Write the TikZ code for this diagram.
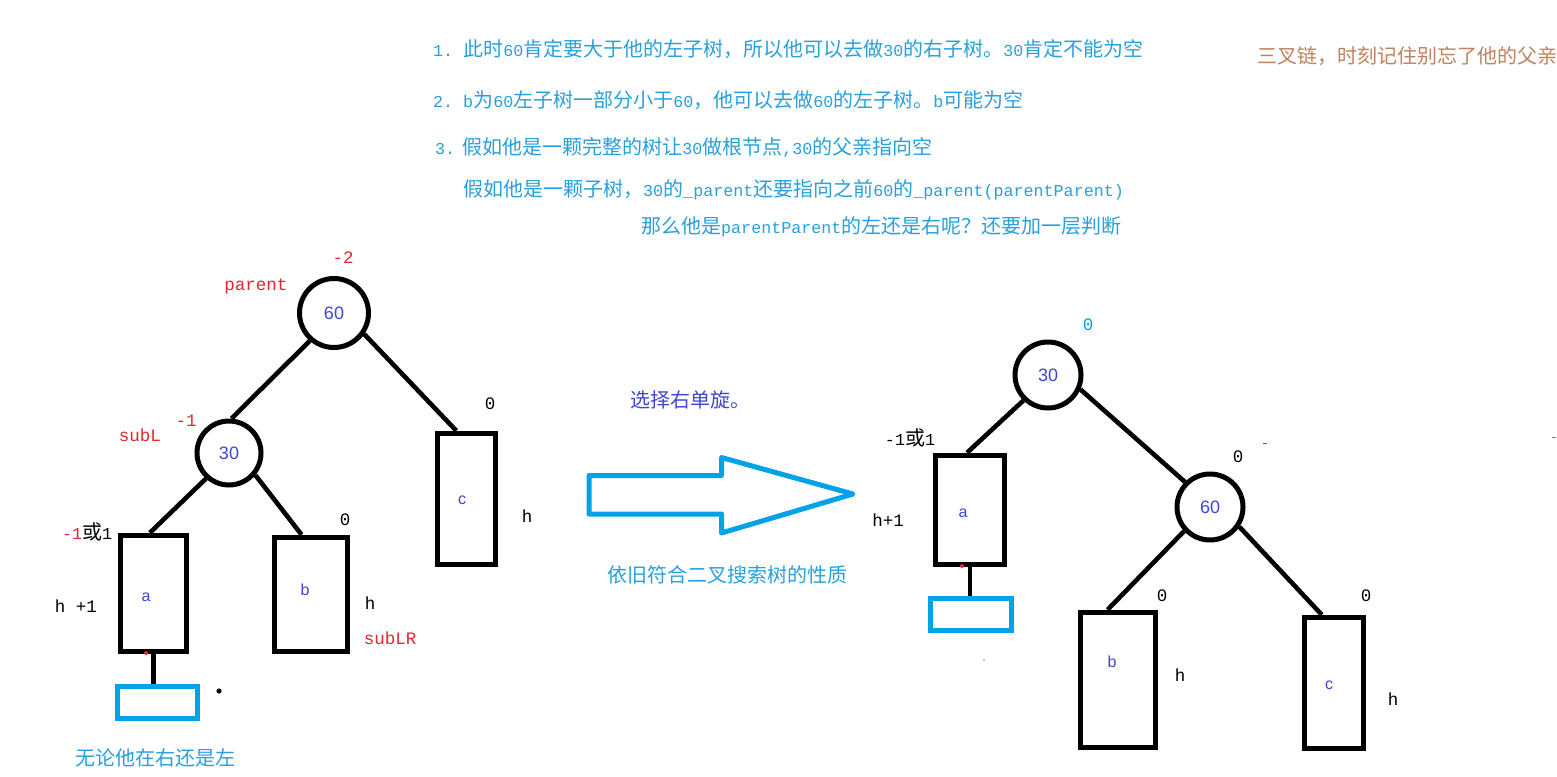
\documentclass[tikz,border=0pt]{standalone}
\usepackage{fontspec}
\setmainfont{Noto Sans CJK SC}
\newfontfamily\latmono{Liberation Mono}
\newfontfamily\latsans{Liberation Sans}
\usetikzlibrary{calc}
\definecolor{pblue}{RGB}{0,162,232}
\definecolor{tblue}{RGB}{40,160,220}
\definecolor{pred}{RGB}{225,40,50}
\definecolor{indig}{RGB}{63,72,204}
\definecolor{pbrown}{RGB}{190,130,95}
\newcommand\mylat[1]{{\latmono\fontsize{16.7}{20}\selectfont #1}}
\tikzset{
  cjkfont/.style={font=\fontsize{20}{24}\selectfont},
  cn/.style={cjkfont, inner sep=0pt},
  lab/.style={font=\latmono\fontsize{17.5}{20}\selectfont, inner sep=0pt},
  circ/.style={circle, draw, line width=5pt, minimum size=#1, inner sep=0pt,
    text=indig, font=\latsans\fontsize{18}{20}\selectfont},
  subtree/.style={draw, line width=5.5pt, inner sep=0pt, text=indig,
    font=\latsans\fontsize{15}{18}\selectfont},
  newbox/.style={draw=pblue, line width=5pt, inner sep=0pt},
  edge/.style={line width=4.6pt},
  leaf/.style={text=indig, font=\latsans\fontsize{16}{18}\selectfont, inner sep=0pt},
}
\begin{document}
\begin{tikzpicture}[x=1pt,y=-1pt]
\fill[white] (0,0) rectangle (1557,776);
\useasboundingbox (0,0) rectangle (1557,776);

% ---------- top notes ----------
\node[cn, anchor=west, text=tblue] (t1) at (433,49) {\mylat{1.}\hspace{10pt}此时\mylat{60}肯定要大于他的左子树，所以他可以去做\mylat{30}的右子树。\mylat{30}肯定不能为空};
\node[cn, anchor=west, text=tblue] (t2) at (433,100) {\mylat{2.}\hspace{10pt}\mylat{b}为\mylat{60}左子树一部分小于\mylat{60}，他可以去做\mylat{60}的左子树。\mylat{b}可能为空};
\node[cn, anchor=west, text=tblue] (t3) at (435,147) {\mylat{3.}\hspace{7pt}假如他是一颗完整的树让\mylat{30}做根节点\mylat{,30}的父亲指向空};
\node[cn, anchor=west, text=tblue] (t4) at (463,190) {假如他是一颗子树，\mylat{30}的\mylat{\_parent}还要指向之前\mylat{60}的\mylat{\_parent(parentParent)}};
\node[cn, anchor=west, text=tblue] (t5) at (641,227) {那么他是\mylat{parentParent}的左还是右呢？还要加一层判断};
\node[cn, anchor=west, text=pbrown] (t6) at (1257,56) {三叉链，时刻记住别忘了他的父亲};

% ---------- left tree ----------
\node[circ=69pt] (L60) at (334,313) {60};
\node[circ=64pt] (L30) at (229,453) {30};
\node[subtree, minimum width=66pt, minimum height=116pt] (La) at (153.5,593.5) {};
\node[subtree, minimum width=73pt, minimum height=114pt] (Lb) at (311,594.5) {};
\node[subtree, minimum width=58pt, minimum height=131pt] (Lc) at (466.5,499) {};
\node[newbox, minimum width=80pt, minimum height=32pt] (Lnew) at (157.5,702.5) {};
\node[leaf] (Lat) at (146,597) {a};
\node[leaf] (Lbt) at (305,590) {b};
\node[leaf] (Lct) at (462,500) {c};

\draw[edge] (L60.229) -- (L30.86);
\draw[edge] (L60.-35) -- ($(Lc.north west)!0.34!(Lc.north east)$);
\draw[edge] (L30.228) -- ($(La.north west)!0.45!(La.north east)$);
\draw[edge] (L30.-40) -- ($(Lb.north west)!0.38!(Lb.north east)$);
\draw[edge] (La.south) -- (La.south |- Lnew.north);
\fill[pred] (146,653) circle (2pt);
\fill[black] (219,691) circle (2.6pt);

\node[lab, text=pred] (lm2) at (343,258) {-2};
\node[lab, text=pred] (lpar) at (256,286) {parent};
\node[lab, text=pred] (lm1) at (186,421) {-1};
\node[lab, text=pred] (lsubl) at (140,435) {subL};
\node[lab] (lc0) at (490,404) {0};
\node[lab] (lch) at (527,516) {h};
\node[cn, anchor=west] (la0) at (62,532) {\mylat{\textcolor{pred}{-1}}或\mylat{1}};
\node[lab] (lah) at (76,606) {h +1};
\node[lab] (lb0) at (345,520) {0};
\node[lab] (lbh) at (370,603) {h};
\node[lab, text=pred] (lsublr) at (390,638) {subLR};
\node[cn, anchor=west, text=tblue] (lnote) at (75,758) {无论他在右还是左};

% ---------- arrow ----------
\draw[pblue, line width=5pt, line join=round] (589,475.5) -- (721.5,475.5) -- (721.5,457.5) -- (853,494) -- (721.5,533) -- (721.5,514) -- (589,514) -- cycle;
\node[cn, anchor=west, text=indig] (rot) at (630,400) {选择右单旋。};
\node[cn, anchor=west, text=tblue] (prop) at (607,575) {依旧符合二叉搜索树的性质};

% ---------- right tree ----------
\node[circ=66pt] (R30) at (1048,375) {30};
\node[circ=66pt] (R60) at (1210,507) {60};
\node[subtree, minimum width=69pt, minimum height=109pt] (Ra) at (970,510) {};
\node[newbox, minimum width=81pt, minimum height=32pt] (Rnew) at (971,614.5) {};
\node[subtree, minimum width=75pt, minimum height=135pt] (Rb) at (1118,680) {};
\node[subtree, minimum width=59pt, minimum height=131pt] (Rc) at (1334,683) {};
\node[leaf] (Rat) at (963,513) {a};
\node[leaf] (Rbt) at (1112,662) {b};
\node[leaf] (Rct) at (1329,685) {c};

\draw[edge] (R30.226) -- ($(Ra.north west)!0.46!(Ra.north east)$);
\draw[edge] (R30.-24) -- (R60.135);
\draw[edge] (R60.223) -- ($(Rb.north west)!0.37!(Rb.north east)$);
\draw[edge] (R60.-34) -- ($(Rc.north west)!0.31!(Rc.north east)$);
\draw[edge] (Ra.south) -- (Ra.south |- Rnew.north);
\fill[pred] (962,566) circle (2pt);

\node[lab, text=pblue] (r30b) at (1088,325) {0};
\node[cn] (ra0) at (910,438) {\mylat{-1}或\mylat{1}};
\node[lab] (rah) at (888,520) {h+1};
\node[lab] (r60b) at (1238,457) {0};
\node[lab] (rb0) at (1162,596) {0};
\node[lab] (rbh) at (1180,675) {h};
\node[lab] (rc0) at (1366,596) {0};
\node[lab] (rch) at (1393,699) {h};
\draw[pred, line width=1pt] (1263,443) -- (1267,443);
\draw[gray, line width=1pt] (1552,437) -- (1556,437);
\fill[gray] (984,660) circle (0.8pt);
\end{tikzpicture}
\end{document}
